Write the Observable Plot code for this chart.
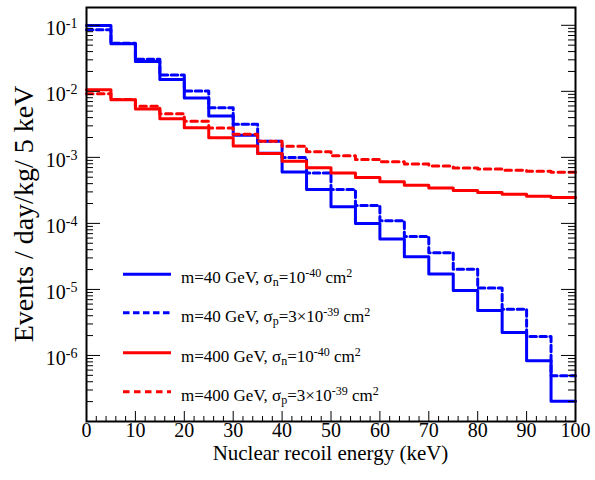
<!DOCTYPE html>
<html><head><meta charset="utf-8">
<script src="https://cdn.jsdelivr.net/npm/d3@7"></script>
<script src="https://cdn.jsdelivr.net/npm/@observablehq/plot@0.6"></script>
<style>body{margin:0;background:#fff} #chart{width:595px;height:480px}</style>
</head><body><div id="chart"></div>
<script>
// Bin lower edges (keV), 5 keV bins
const binEdges = [0,5,10,15,20,25,30,35,40,45,50,55,60,65,70,75,80,85,90,95];
const binEnd = 100;
// m=40 GeV, sigma_n=1e-40 (blue solid)
const m40SigmaN = [9.9e-2,5.24e-2,2.83e-2,1.51e-2,7.95e-3,4.22e-3,2.16e-3,1.15e-3,6.01e-4,3.26e-4,1.78e-4,1.00e-4,5.79e-5,3.13e-5,1.71e-5,9.6e-6,4.79e-6,2.23e-6,8.31e-7,2.02e-7];
// m=40 GeV, sigma_p=3e-39 (blue dashed)
const m40SigmaP = [8.53e-2,5.35e-2,3.06e-2,1.76e-2,1.01e-2,5.65e-3,3.16e-3,1.75e-3,9.93e-4,5.79e-4,3.26e-4,1.86e-4,1.10e-4,6.36e-5,3.60e-5,2.02e-5,1.05e-5,5.02e-6,1.94e-6,4.93e-7];
// m=400 GeV, sigma_n=1e-40 (red solid)
const m400SigmaN = [1.06e-2,7.46e-3,5.38e-3,3.85e-3,2.80e-3,1.99e-3,1.49e-3,1.14e-3,8.72e-4,6.96e-4,5.81e-4,4.95e-4,4.28e-4,3.79e-4,3.45e-4,3.15e-4,2.94e-4,2.77e-4,2.58e-4,2.47e-4];
// m=400 GeV, sigma_p=3e-39 (red dashed)
const m400SigmaP = [9.20e-3,7.55e-3,5.92e-3,4.59e-3,3.51e-3,2.78e-3,2.23e-3,1.75e-3,1.47e-3,1.22e-3,1.06e-3,9.29e-4,8.59e-4,7.92e-4,7.41e-4,6.92e-4,6.68e-4,6.38e-4,6.17e-4,5.96e-4];

const xTickLabels = [0,10,20,30,40,50,60,70,80,90,100];
const yTickLabels = [1e-1,1e-2,1e-3,1e-4,1e-5,1e-6];
const legendLabels = [
  {m: "m=40 GeV, σ", sub: "n", cs: "=10", sup: "-40"},
  {m: "m=40 GeV, σ", sub: "p", cs: "=3×10", sup: "-39"},
  {m: "m=400 GeV, σ", sub: "n", cs: "=10", sup: "-40"},
  {m: "m=400 GeV, σ", sub: "p", cs: "=3×10", sup: "-39"}
];

function rows(vals) {
  const r = binEdges.map((e, i) => ({x: e, y: vals[i]}));
  r.push({x: binEnd, y: vals[vals.length - 1]});
  return r;
}

const FONT = "'Liberation Serif', 'Times New Roman', serif";
const yDomain = [1e-7, 0.186];
const yMajor = [1e-7,1e-6,1e-5,1e-4,1e-3,1e-2,1e-1];
const yMinor = [];
for (const d of yMajor) for (let k = 2; k <= 9; k++) { const v = k * d; if (v <= yDomain[1]) yMinor.push(v); }
const xMinor = d3.range(0, 101, 2).filter(v => v % 10 !== 0);

const W = 595, H = 480, mL = 86, mR = 20, mT = 7, mB = 59;
const pw = W - mL - mR, ph = H - mT - mB;

const BLUE = "#0000ff", RED = "#ff0000";
const series = [
  {vals: m40SigmaN, stroke: BLUE, dash: null},
  {vals: m40SigmaP, stroke: BLUE, dash: "6.5,3.5"},
  {vals: m400SigmaN, stroke: RED, dash: null},
  {vals: m400SigmaP, stroke: RED, dash: "6.5,4.5"}
];

const chart = Plot.plot({
  width: W, height: H,
  marginLeft: mL, marginRight: mR, marginTop: mT, marginBottom: mB,
  style: {fontFamily: FONT, background: "white", color: "black"},
  x: {domain: [0, 100], label: null},
  y: {type: "log", domain: yDomain, label: null},
  marks: [
    ...series.map(s => Plot.line(rows(s.vals), {x: "x", y: "y", curve: "step-after", stroke: s.stroke, strokeWidth: 3, strokeDasharray: s.dash})),
    Plot.tickY(yMajor, {y: d => d, insetRight: pw - 14, stroke: "black", strokeWidth: 1}),
    Plot.tickY(yMajor, {y: d => d, insetLeft: pw - 14, stroke: "black", strokeWidth: 1}),
    Plot.tickY(yMinor, {y: d => d, insetRight: pw - 7, stroke: "black", strokeWidth: 1}),
    Plot.tickY(yMinor, {y: d => d, insetLeft: pw - 7, stroke: "black", strokeWidth: 1}),
    Plot.tickX(xTickLabels, {x: d => d, insetTop: ph - 10, stroke: "black", strokeWidth: 1}),
    Plot.tickX(xMinor, {x: d => d, insetTop: ph - 5, stroke: "black", strokeWidth: 1}),
    Plot.axisX({ticks: xTickLabels, tickSize: 0, tickPadding: 1, fontSize: 20, fontFamily: FONT, tickFormat: d => String(d)}),
    Plot.axisY({ticks: yTickLabels, tickSize: 0, tickPadding: 9, fontSize: 20, fontFamily: FONT, dy: 3, tickFormat: d => "10^" + Math.round(Math.log10(d))}),
    Plot.frame({stroke: "black", strokeWidth: 2})
  ]
});
document.getElementById("chart").appendChild(chart);

const svg = d3.select(chart);
// superscripts on y tick labels
svg.selectAll('g[aria-label="y-axis tick label"] text').each(function() {
  const s = this.textContent;
  const [b, e] = s.split("^");
  const t = d3.select(this);
  t.text(null);
  t.append("tspan").text(b);
  t.append("tspan").attr("dy", -7).attr("font-size", 14).text(e);
});

// axis titles
svg.append("text").attr("x", mL + pw / 2).attr("y", 460).attr("text-anchor", "middle")
  .attr("font-family", FONT).attr("font-size", 21).attr("fill", "black").text("Nuclear recoil energy (keV)");
svg.append("text").attr("transform", `translate(33,${mT + ph / 2}) rotate(-90)`).attr("text-anchor", "middle")
  .attr("font-family", FONT).attr("font-size", 28).attr("fill", "black").text("Events / day/kg/ 5 keV");

// legend
const legY = [274.3, 312.7, 352.7, 391.7];
const lg = svg.append("g").attr("font-size", 17).attr("font-family", FONT).attr("fill", "black").attr("text-anchor", "start");
legendLabels.forEach((L, i) => {
  const s = series[i];
  lg.append("line").attr("x1", 123).attr("x2", 171).attr("y1", legY[i]).attr("y2", legY[i])
    .attr("stroke", s.stroke).attr("stroke-width", 3).attr("stroke-dasharray", s.dash);
  const t = lg.append("text").attr("x", 181).attr("y", legY[i] + 9).attr("text-anchor", "start");
  t.append("tspan").text(L.m);
  t.append("tspan").attr("dy", 3).attr("font-size", 12).text(L.sub);
  t.append("tspan").attr("dy", -3).text(L.cs);
  t.append("tspan").attr("dy", -6).attr("font-size", 12).text(L.sup);
  t.append("tspan").attr("dy", 6).text(" cm");
  t.append("tspan").attr("dy", -6).attr("font-size", 12).text("2");
});
</script>
</body></html>
